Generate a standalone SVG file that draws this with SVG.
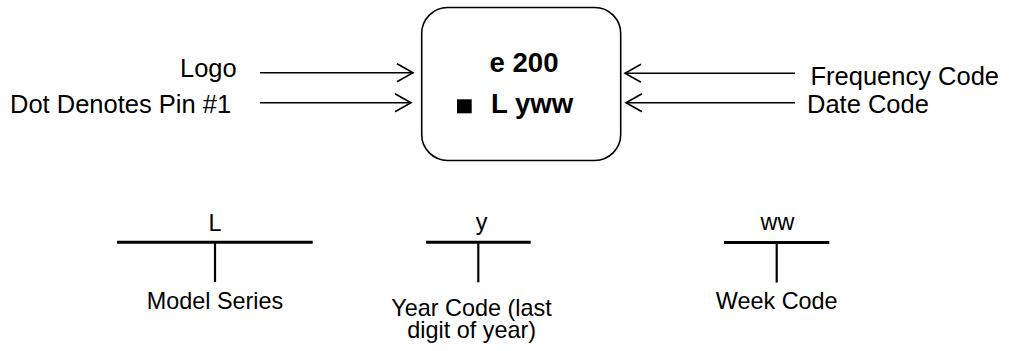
<svg xmlns="http://www.w3.org/2000/svg" width="1009" height="351" viewBox="0 0 1009 351">
<style>
text{font-family:"Liberation Sans",Arial,sans-serif;fill:#000}
.lbl{font-size:25.5px}
.sm{font-size:23.4px}
.bold{font-size:27.6px;font-weight:bold}
.ln{stroke:#000;stroke-width:1.6;fill:none}
.bar{stroke:#000;stroke-width:3;fill:none}
.stem{stroke:#000;stroke-width:2.2;fill:none}
</style>
<defs>
<marker id="arr" markerUnits="userSpaceOnUse" markerWidth="22" markerHeight="24" refX="17" refY="10" orient="auto">
<path d="M1,1 L17,10 L1,19" fill="none" stroke="#000" stroke-width="1.6"/>
</marker>
</defs>
<g id="chip">
<rect x="421.7" y="7.5" width="199" height="153" rx="26" ry="26" fill="#fff" stroke="#000" stroke-width="1.6"/>
<text class="bold" x="524" y="72" text-anchor="middle">e 200</text>
<rect x="457" y="99.3" width="14.7" height="14"/>
<text class="bold" x="491" y="113.3">L yww</text>
</g>
<g id="label-logo"><text class="lbl" x="180" y="77">Logo</text></g>
<g id="label-dot"><text class="lbl" x="10" y="112.7">Dot Denotes Pin #1</text></g>
<g id="label-freq"><text class="lbl" x="810.5" y="84.5">Frequency Code</text></g>
<g id="label-date"><text class="lbl" x="807" y="113">Date Code</text></g>
<g id="connectors">
<line class="ln" x1="260" y1="72.7" x2="413" y2="72.7" marker-end="url(#arr)"/>
<line class="ln" x1="260" y1="102.7" x2="411" y2="102.7" marker-end="url(#arr)"/>
<line class="ln" x1="795" y1="73.3" x2="625" y2="73.3" marker-end="url(#arr)"/>
<line class="ln" x1="795" y1="102.7" x2="626" y2="102.7" marker-end="url(#arr)"/>
</g>
<g id="key-L">
<text class="sm" x="215" y="230.7" text-anchor="middle">L</text>
<line class="bar" x1="117" y1="242.3" x2="312.7" y2="242.3"/>
<line class="stem" x1="215" y1="242.3" x2="215" y2="282"/>
<text class="sm" x="215" y="309.3" text-anchor="middle">Model Series</text>
</g>
<g id="key-y">
<text class="sm" x="481.5" y="230" text-anchor="middle">y</text>
<line class="bar" x1="426" y1="242.3" x2="530.7" y2="242.3"/>
<line class="stem" x1="478.3" y1="242.3" x2="478.3" y2="282.3"/>
<text class="sm" x="471.5" y="316" text-anchor="middle">Year Code (last</text>
<text class="sm" x="471.7" y="338.3" text-anchor="middle">digit of year)</text>
</g>
<g id="key-ww">
<text class="sm" x="777.5" y="230" text-anchor="middle">ww</text>
<line class="bar" x1="724" y1="242.5" x2="829.3" y2="242.5"/>
<line class="stem" x1="776.7" y1="242.5" x2="776.7" y2="282.5"/>
<text class="sm" x="776.7" y="309.3" text-anchor="middle">Week Code</text>
</g>
</svg>
